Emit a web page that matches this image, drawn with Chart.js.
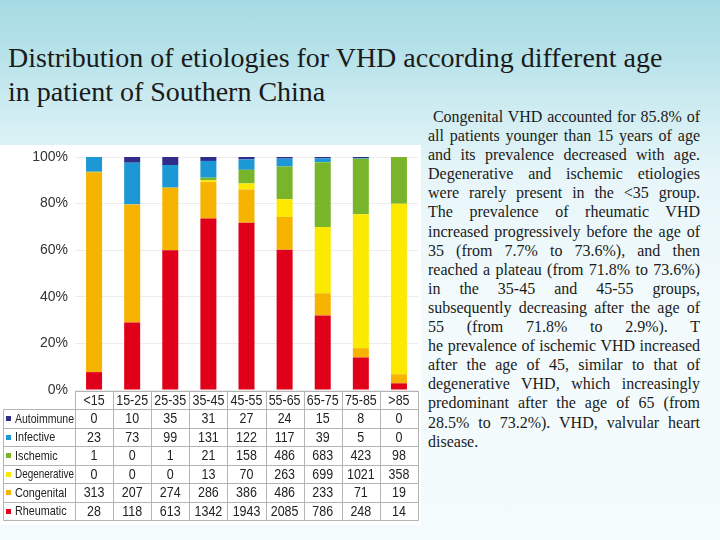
<!DOCTYPE html>
<html>
<head>
<meta charset="utf-8">
<script src="https://cdn.jsdelivr.net/npm/chart.js@4/dist/chart.umd.min.js"></script>
<style>
  html, body { margin: 0; padding: 0; }
  body {
    width: 720px; height: 540px; overflow: hidden; position: relative;
    background: linear-gradient(180deg, #a7dbe4 0px, #b9e3ea 60px, #d3eef3 120px, #e8f6f9 180px, #f2fafc 300px, #f4fbfd 540px);
    font-family: "Liberation Serif", "Times New Roman", serif;
  }
  #title {
    position: absolute; left: 8px; top: 41px; font-size: 28px; line-height: 34px; color: #1a1a1a;
    white-space: nowrap;
  }
  #panel { position: absolute; left: 0; top: 145px; width: 421px; height: 380px; background: #fff; }
  #chartBox { position: absolute; left: 0; top: 140px; width: 420px; height: 385px; }
  #note { position: absolute; left: 428px; top: 107px; width: 272px; font-size: 16px; line-height: 19.1px; color: #1a1a1a; }
  #note div { text-align: justify; text-align-last: justify; white-space: nowrap; }
  #note div.last { text-align-last: left; }
</style>
</head>
<body>
<div id="title">Distribution of etiologies for VHD according different age<br>in patient of Southern China</div>
<div id="panel"></div>
<div id="chartBox"><canvas id="chart"></canvas></div>
<div id="note"></div>
<script>
// age groups
var ageGroups = ["<15", "15-25", "25-35", "35-45", "45-55", "55-65", "65-75", "75-85", ">85"];

var autoimmune   = [0, 10, 35, 31, 27, 24, 15, 8, 0];
var infective    = [23, 73, 99, 131, 122, 117, 39, 5, 0];
var ischemic     = [1, 0, 1, 21, 158, 486, 683, 423, 98];
var degenerative = [0, 0, 0, 13, 70, 263, 699, 1021, 358];
var congenital   = [313, 207, 274, 286, 386, 486, 233, 71, 19];
var rheumatic    = [28, 118, 613, 1342, 1943, 2085, 786, 248, 14];

var yTicks = [0, 20, 40, 60, 80, 100];

var noteLines = [
  "\u00a0Congenital VHD accounted for 85.8% of",
  "all patients younger than 15 years of age",
  "and its prevalence decreased with age.",
  "Degenerative and ischemic etiologies",
  "were rarely present in the <35 group.",
  "The prevalence of rheumatic VHD",
  "increased progressively before the age of",
  "35 (from 7.7% to 73.6%), and then",
  "reached a plateau (from 71.8% to 73.6%)",
  "in the 35-45 and 45-55 groups,",
  "subsequently decreasing after the age of",
  "55 (from 71.8% to 2.9%). T",
  "he prevalence of ischemic VHD increased",
  "after the age of 45, similar to that of",
  "degenerative VHD, which increasingly",
  "predominant after the age of 65 (from",
  "28.5% to 73.2%). VHD, valvular heart",
  "disease."
];

var note = document.getElementById('note');
noteLines.forEach(function (t, i) {
  var d = document.createElement('div');
  d.textContent = t;
  if (i === noteLines.length - 1) d.className = 'last';
  note.appendChild(d);
});

// stacking order bottom -> top
var series = [
  { name: "Rheumatic",    data: rheumatic,    color: "#e1001a" },
  { name: "Congenital",   data: congenital,   color: "#f6b400" },
  { name: "Degenerative", data: degenerative, color: "#fbea00" },
  { name: "Ischemic",     data: ischemic,     color: "#78b52b" },
  { name: "Infective",    data: infective,    color: "#1b98d5" },
  { name: "Autoimmune",   data: autoimmune,   color: "#302d8a" }
];
// table row order (top -> bottom)
var tableRows = series.slice().reverse();

var totals = ageGroups.map(function (_, i) {
  return series.reduce(function (s, d) { return s + d.data[i]; }, 0);
});

var datasets = series.map(function (s) {
  return {
    label: s.name,
    data: s.data.map(function (v, i) { return v / totals[i] * 100; }),
    backgroundColor: s.color,
    borderWidth: 0,
    barPercentage: 0.42,
    categoryPercentage: 1
  };
});

// narrow text helper (the table font in the source is condensed)
function narrowText(ctx, txt, x, y, sx, maxW) {
  ctx.save();
  ctx.translate(x, y);
  ctx.scale(sx, 1);
  if (maxW) ctx.fillText(txt, 0, 0, maxW / sx);
  else ctx.fillText(txt, 0, 0);
  ctx.restore();
}

var tablePlugin = {
  id: 'dataTable',
  afterDraw: function (chart) {
    var ctx = chart.ctx, area = chart.chartArea, x = chart.scales.x;
    var colW = (area.right - area.left) / ageGroups.length;
    var top = area.bottom + 1, headH = 18, rowH = 18.5, left = 3;
    ctx.save();
    ctx.strokeStyle = '#b4b4b4';
    ctx.lineWidth = 1;
    ctx.fillStyle = '#222';
    ctx.textBaseline = 'middle';
    // header row
    ctx.beginPath();
    ctx.rect(area.left + 0.5, top + 0.5, area.right - area.left, headH);
    ctx.stroke();
    ctx.font = '14.5px "Liberation Sans", Arial, sans-serif';
    ctx.textAlign = 'center';
    ageGroups.forEach(function (g, i) {
      narrowText(ctx, g, x.getPixelForValue(i), top + headH / 2 + 1, 0.86);
    });
    // body
    var bodyTop = top + headH;
    var bodyH = rowH * tableRows.length;
    ctx.beginPath();
    ctx.rect(left + 0.5, bodyTop + 0.5, area.right - left, bodyH);
    ctx.stroke();
    tableRows.forEach(function (r, j) {
      var y0 = bodyTop + rowH * j;
      if (j > 0) {
        ctx.beginPath();
        ctx.moveTo(left, Math.round(y0) + 0.5);
        ctx.lineTo(area.right, Math.round(y0) + 0.5);
        ctx.stroke();
      }
      var cy = y0 + rowH / 2 + 1;
      ctx.fillStyle = r.color;
      ctx.fillRect(6, Math.round(cy - 3), 5, 5);
      ctx.fillStyle = '#222';
      ctx.textAlign = 'left';
      ctx.font = '13.5px "Liberation Sans", Arial, sans-serif';
      narrowText(ctx, r.name, 15, cy, 0.8, area.left - 16);
      ctx.textAlign = 'center';
      ctx.font = '14.5px "Liberation Sans", Arial, sans-serif';
      r.data.forEach(function (v, i) {
        narrowText(ctx, String(v), x.getPixelForValue(i), cy, 0.86);
      });
    });
    // vertical column lines
    for (var i = 0; i <= ageGroups.length; i++) {
      var vx = Math.round(area.left + colW * i) + 0.5;
      ctx.beginPath();
      ctx.moveTo(vx, top);
      ctx.lineTo(vx, bodyTop + bodyH);
      ctx.stroke();
    }
    ctx.restore();
  }
};

new Chart(document.getElementById('chart'), {
  type: 'bar',
  data: { labels: ageGroups, datasets: datasets },
  plugins: [tablePlugin],
  options: {
    responsive: true,
    maintainAspectRatio: false,
    animation: false,
    layout: { padding: { left: 0, right: 2, top: 17, bottom: 135 } },
    plugins: { legend: { display: false }, tooltip: { enabled: false } },
    scales: {
      x: { stacked: true, display: false },
      y: {
        stacked: true,
        min: 0, max: 100,
        afterFit: function (s) { s.width = 75; },
        afterBuildTicks: function (s) { s.ticks = yTicks.map(function (v) { return { value: v }; }); },
        border: { display: false },
        grid: { color: '#ececec', drawTicks: false },
        ticks: {
          padding: 7,
          color: '#333',
          font: { family: '"Liberation Sans", Arial, sans-serif', size: 14 },
          callback: function (v) { return v + '%'; }
        }
      }
    }
  }
});
</script>
</body>
</html>
